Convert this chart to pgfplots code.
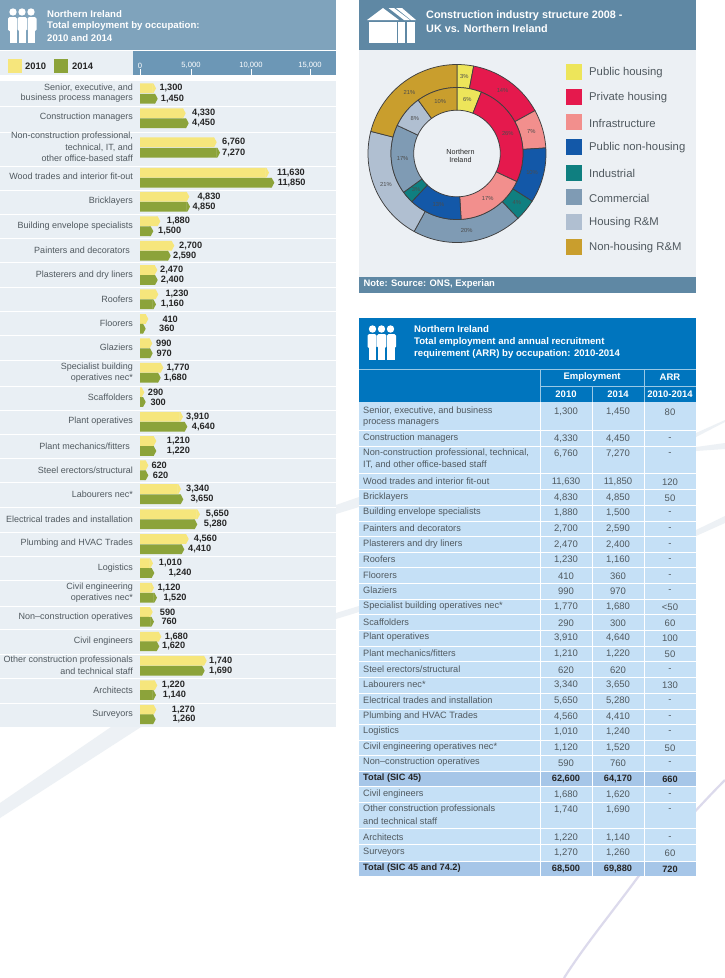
\documentclass[border=0pt]{standalone}
\usepackage{fontspec}
\setmainfont{Liberation Sans}
\usepackage{pgfplots}
\usepackage{pgfplotstable}
\pgfplotsset{compat=1.18}
\usepgfplotslibrary{polar}
\definecolor{hdrL}{HTML}{7FA3BC}
\definecolor{bandL}{HTML}{6C97B6}
\definecolor{rowL}{HTML}{E9EFF4}
\definecolor{hdrR}{HTML}{5F88A4}
\definecolor{bodyR}{HTML}{ECF0F4}
\definecolor{tblue}{HTML}{0075BE}
\definecolor{trow}{HTML}{C5E0F6}
\definecolor{ttot}{HTML}{A6C6E8}
\definecolor{yel}{HTML}{F6E67C}
\definecolor{grn}{HTML}{8CA33A}
\definecolor{txt}{HTML}{50595F}
\definecolor{swoosh}{HTML}{EDF1F5}
\definecolor{lav}{HTML}{DCDAEC}
\definecolor{cA}{HTML}{EDE55A}
\definecolor{cB}{HTML}{E5194D}
\definecolor{cC}{HTML}{F28F8D}
\definecolor{cD}{HTML}{1358A8}
\definecolor{cE}{HTML}{0F7F80}
\definecolor{cF}{HTML}{7F9BB4}
\definecolor{cG}{HTML}{B0BFD1}
\definecolor{cH}{HTML}{C99E2D}
\pgfdeclareplotmark{headr}{%
  \pgfpathmoveto{\pgfqpoint{-0.3pt}{-4.9pt}}%
  \pgfpathlineto{\pgfqpoint{0.8pt}{-4.9pt}}%
  \pgfpathlineto{\pgfqpoint{3.4pt}{0pt}}%
  \pgfpathlineto{\pgfqpoint{0.8pt}{4.9pt}}%
  \pgfpathlineto{\pgfqpoint{-0.3pt}{4.9pt}}%
  \pgfpathclose\pgfusepathqfill}
% y = pixel row of each bar, a / b = length of the 2010 / 2014 bar as drawn
\pgfplotstableread{
ya yb a b
88.3 98.7 1416 1566
113.3 123.2 4044 4310
142.3 152.7 6788 7080
172.7 182.7 11416 11885
196.7 206.7 4363 4425
221.3 231.2 1796 1177
245.7 255.7 3035 2717
270.0 280.0 1531 1566
294.3 304.3 1619 1416
319.0 328.7 735 504
343.3 353.3 1088 1124
367.7 377.7 2062 1832
392.3 402.0 381 504
416.7 426.7 3805 4186
441.0 451.0 1442 1442
465.3 475.3 735 735
489.0 499.3 3628 3832
514.3 524.3 5310 5071
539.0 549.3 4310 3920
563.3 573.0 1150 1265
587.7 597.7 1239 1504
612.0 621.7 1124 1239
636.7 646.3 1885 1708
660.7 670.7 5903 5726
685.3 695.0 1531 1416
709.7 719.3 1442 1389
}\bars
\newcommand\seg[6]{% start, pct, rin, rout, colour, label
  \pgfmathsetmacro\aO{90-3.6*#1}\pgfmathsetmacro\aE{90-3.6*(#1+#2)}%
  \pgfmathsetmacro\nS{int(ceil(#2*1.2)+1)}%
  \gdef\pts{}%
  \foreach \i in {0,...,\nS}{\pgfmathsetmacro\ang{\aO+(\aE-\aO)*\i/\nS}\xdef\pts{\pts (\ang,#4)}}%
  \foreach \i in {\nS,...,0}{\pgfmathsetmacro\ang{\aO+(\aE-\aO)*\i/\nS}\xdef\pts{\pts (\ang,#3)}}%
  \edef\tmp{\noexpand\addplot[fill=#5,draw=black!75,line width=.75pt,data cs=polar] coordinates {\pts} -- cycle;}\tmp
  \pgfmathsetmacro\lx{(#3+#4)/2*cos((\aO+\aE)/2)}\pgfmathsetmacro\ly{(#3+#4)/2*sin((\aO+\aE)/2)}%
  \edef\tmp{\noexpand\node[font=\noexpand\fontsize{5.8}{6}\noexpand\selectfont,text=black!70] at (axis cs:\lx,\ly) {#6\noexpand\%};}\tmp
}
\newcommand\lab[2]{\node[anchor=east,text=txt,inner sep=0pt,font=\fontsize{9}{10}\selectfont] at (133,#1) {#2};}
\newcommand\vl[3]{\node[anchor=west,text=black!85,inner sep=0pt,font=\fontsize{9.2}{10}\bfseries\selectfont] at (#1,#2) {#3};}
\newcommand\tr[5]{%
  \node[anchor=west,text=txt,inner sep=0pt,font=\fontsize{9.2}{10}\selectfont] at (363,#1) {#2};
  \node[text=txt,inner sep=0pt,font=\fontsize{9.5}{10}\selectfont] at (566,#1+1) {#3};
  \node[text=txt,inner sep=0pt,font=\fontsize{9.5}{10}\selectfont] at (618,#1+1) {#4};
  \node[text=txt,inner sep=0pt,font=\fontsize{9.5}{10}\selectfont] at (670,#1+1) {#5};}
\newcommand\trb[5]{%
  \node[anchor=west,text=black!85,inner sep=0pt,font=\fontsize{9.2}{10}\bfseries\selectfont] at (363,#1) {#2};
  \node[text=black!85,inner sep=0pt,font=\fontsize{9.2}{10}\bfseries\selectfont] at (566,#1+1) {#3};
  \node[text=black!85,inner sep=0pt,font=\fontsize{9.2}{10}\bfseries\selectfont] at (618,#1+1) {#4};
  \node[text=black!85,inner sep=0pt,font=\fontsize{9.2}{10}\bfseries\selectfont] at (670,#1+1) {#5};}
\newcommand\people[2]{\begin{scope}[shift={(#1,#2)},white]
  \foreach \c in {13,22,31}{\fill (\c,12) circle (3.7);}
  \fill[rounded corners=1.5] (8,17) rectangle (17,31); \fill (9.5,30) rectangle (16.6,43);
  \fill[rounded corners=1.5] (27.5,17) rectangle (36.5,31); \fill (27.9,30) rectangle (35,43);
  \fill[rounded corners=1.5] (17.7,17) rectangle (26.8,31); \fill (18.6,30) rectangle (25.9,43);
  \end{scope}}
\tikzset{px/.style={x=1pt,y=-1pt}}
\newcommand\hd[3]{\node[anchor=west,text=white,inner sep=0pt,font=\fontsize{9.6}{10}\bfseries\selectfont] at (#1,#2) {#3};}
\begin{document}
\begin{tikzpicture}
\begin{scope}[px]
\useasboundingbox (0,0) rectangle (725,978);
\fill[white] (0,0) rectangle (725,978);
% faint background strokes
\fill[swoosh] (111,727) -- (141,727) -- (0,818) -- (0,803) -- cycle;
\fill[swoosh] (696,433) -- (725,420) -- (725,422) -- (696,437) -- cycle;
\fill[swoosh] (696,447) -- (725,443) -- (725,449) -- (696,451) -- cycle;
\fill[swoosh] (696,530) -- (725,516) -- (725,523) -- (696,536) -- cycle;
\fill[swoosh] (336,505) -- (359,497) -- (359,507) -- (336,514) -- cycle;
\fill[swoosh] (336,613) -- (359,606) -- (359,612) -- (336,619) -- cycle;
\draw[lav,line width=2.2pt] (725,780) .. controls (705,800) and (670,838) .. (638,877) .. controls (610,915) and (585,945) .. (564,978);
% left panel
\fill[hdrL] (0,0) rectangle (336,50);
\fill[rowL] (0,51) rectangle (133,75);
\fill[bandL] (133,51) rectangle (336,75);
\fill[rowL] (0,81) rectangle (336,727);
\foreach \y in {106,132,166,190,214,238,262,287,311,335,360,386,410,434,458,482,507,532,556,580,606,629,654,678,703}{\draw[white,line width=1pt] (0,\y) -- (336,\y);}
\people{0}{0}
\hd{47}{14}{Northern Ireland}
\hd{47}{26}{Total employment by occupation:}
\hd{47}{38.5}{2010 and 2014}
\fill[yel] (8,59) rectangle (21.5,73); \fill[grn] (54,59) rectangle (68,73);
\node[anchor=west,text=black!85,inner sep=0pt,font=\fontsize{9.4}{10}\bfseries\selectfont] at (25,66) {2010};
\node[anchor=west,text=black!85,inner sep=0pt,font=\fontsize{9.4}{10}\bfseries\selectfont] at (72,66) {2014};
\end{scope}
% tick axis
\begin{axis}[at={(140pt,-75pt)},anchor=south west,scale only axis,width=196pt,height=7pt,xmin=0,xmax=17345,ymin=0,ymax=1,
  ytick=\empty,xtick={0,4513,9823,15044},xticklabels={0,{5,000},{10,000},{15,000}},scaled x ticks=false,
  xtick pos=lower,xticklabel pos=upper,tick align=inside,major tick length=6pt,
  tick style={white,line width=.5pt},axis line style={draw=none},
  xticklabel style={text=white,inner sep=0pt,yshift=-0.5pt,font=\fontsize{7.6}{8}\selectfont}]
\end{axis}
% bars
\begin{axis}[at={(140pt,-75pt)},anchor=north west,scale only axis,width=196pt,height=652pt,xmin=0,xmax=17345,ymin=75,ymax=727,
  y dir=reverse,hide axis,clip=false]
\addplot[xbar,bar shift=0pt,bar width=9.8pt,fill=yel,draw=none] table[x expr=\thisrow{a}-300,y=ya]{\bars};
\addplot[xbar,bar shift=0pt,bar width=9.8pt,fill=grn,draw=none] table[x expr=\thisrow{b}-300,y=yb]{\bars};
\addplot[only marks,mark=headr,mark options={fill=yel,draw=none}] table[x expr=\thisrow{a}-300,y=ya]{\bars};
\addplot[only marks,mark=headr,mark options={fill=grn,draw=none}] table[x expr=\thisrow{b}-300,y=yb]{\bars};
\end{axis}
\begin{scope}[px]
\lab{87.5}{Senior, executive, and}\lab{98}{business process managers}
\lab{117.5}{Construction managers}
\lab{136.5}{Non-construction professional,}\lab{147.5}{technical, IT, and }\lab{158.5}{other office-based staff}
\lab{176.7}{Wood trades and interior fit-out}
\lab{201.3}{Bricklayers}\lab{226}{Building envelope specialists}
\node[anchor=east,text=txt,inner sep=0pt,font=\fontsize{9}{10}\selectfont] at (130,250) {Painters and decorators};
\lab{274.7}{Plasterers and dry liners}\lab{299}{Roofers}\lab{323.7}{Floorers}\lab{347.7}{Glaziers}
\lab{367}{Specialist building}\lab{378}{operatives nec*}
\lab{397}{Scaffolders}\lab{421}{Plant operatives}
\node[anchor=east,text=txt,inner sep=0pt,font=\fontsize{9}{10}\selectfont] at (130,446) {Plant mechanics/fitters};
\lab{470}{Steel erectors/structural}\lab{494.7}{Labourers nec*}
\lab{519}{Electrical trades and installation}\lab{543}{Plumbing and HVAC Trades}\lab{567.7}{Logistics}
\lab{587}{Civil engineering}\lab{598}{operatives nec*}
\lab{617}{Non–construction operatives}\lab{641}{Civil engineers}
\lab{660}{Other construction professionals}\lab{671}{and technical staff}
\lab{690}{Architects}\lab{714.5}{Surveyors}
\vl{159.3}{88.3}{1,300}\vl{160.7}{98.7}{1,450}
\vl{192}{113.3}{4,330}\vl{192}{123.2}{4,450}
\vl{222}{142.3}{6,760}\vl{222}{152.7}{7,270}
\vl{277}{172.7}{11,630}\vl{277.7}{182.7}{11,850}
\vl{197.3}{196.7}{4,830}\vl{192.3}{206.7}{4,850}
\vl{166.7}{221.3}{1,880}\vl{158}{231.2}{1,500}
\vl{179}{245.7}{2,700}\vl{173}{255.7}{2,590}
\vl{160}{270}{2,470}\vl{160.7}{280}{2,400}
\vl{165.3}{294.3}{1,230}\vl{160.7}{304.3}{1,160}
\vl{162.3}{319}{410}\vl{159}{328.7}{360}
\vl{156}{343.3}{990}\vl{156.3}{353.3}{970}
\vl{166.3}{367.7}{1,770}\vl{163.7}{377.7}{1,680}
\vl{147.7}{392.3}{290}\vl{150.3}{402}{300}
\vl{186}{416.7}{3,910}\vl{191.7}{426.7}{4,640}
\vl{166.7}{441}{1,210}\vl{166.7}{451}{1,220}
\vl{151.3}{465.3}{620}\vl{152.7}{475.3}{620}
\vl{186}{489}{3,340}\vl{190.3}{499.3}{3,650}
\vl{205.7}{514.3}{5,650}\vl{203.7}{524.3}{5,280}
\vl{193.7}{539}{4,560}\vl{188}{549.3}{4,410}
\vl{158.7}{563.3}{1,010}\vl{168.3}{573}{1,240}
\vl{157.3}{587.7}{1,120}\vl{163.3}{597.7}{1,520}
\vl{159.7}{612}{590}\vl{161.3}{621.7}{760}
\vl{164.7}{636.7}{1,680}\vl{162}{646.3}{1,620}
\vl{209}{660.7}{1,740}\vl{209}{670.7}{1,690}
\vl{161.7}{685.3}{1,220}\vl{162.7}{695}{1,140}
\vl{171.7}{709.7}{1,270}\vl{172.3}{719.3}{1,260}
% donut panel
\fill[hdrR] (359,0) rectangle (696,50);
\fill[bodyR] (359,50) rectangle (696,277);
\fill[hdrR] (359,277) rectangle (696,292.5);
\begin{scope}[white]
\fill (383,8) -- (367,20) -- (399,20) -- cycle;
\fill (388.5,8) -- (394,8) -- (410,20) -- (404,20) -- cycle;
\fill (396,8) -- (402,8) -- (416,20) -- (411,20) -- cycle;
\fill (369,22) rectangle (396.7,43); \fill (397.7,22) rectangle (405,43); \fill (406.7,22) rectangle (415,43);
\end{scope}
\node[anchor=west,text=white,inner sep=0pt,font=\fontsize{10.8}{12}\bfseries\selectfont] at (426,16) {Construction industry structure 2008 -};
\node[anchor=west,text=white,inner sep=0pt,font=\fontsize{10.8}{12}\bfseries\selectfont] at (426,29) {UK vs. Northern Ireland};
\node[anchor=west,text=white,inner sep=0pt,font=\fontsize{9.4}{10}\bfseries\selectfont] at (363.5,284.5) {Note: Source: ONS, Experian};
\end{scope}
\begin{axis}[at={(457pt,-153.5pt)},anchor=center,scale only axis,width=190pt,height=190pt,xmin=-95,xmax=95,ymin=-95,ymax=95,hide axis,clip=false]
\seg{0}{3}{66}{89}{cA}{3}
\seg{3}{14}{66}{89}{cB}{14}
\seg{17}{7}{66}{89}{cC}{7}
\seg{24}{10}{66}{89}{cD}{10}
\seg{34}{4}{66}{89}{cE}{4}
\seg{38}{20}{66}{89}{cF}{20}
\seg{58}{21}{66}{89}{cG}{21}
\seg{79}{21}{66}{89}{cH}{21}
\seg{0}{6}{43.3}{66}{cA}{6}
\seg{6}{26}{43.3}{66}{cB}{26}
\seg{32}{17}{43.3}{66}{cC}{17}
\seg{49}{13}{43.3}{66}{cD}{13}
\seg{62}{3}{43.3}{66}{cE}{3}
\seg{65}{17}{43.3}{66}{cF}{17}
\seg{82}{8}{43.3}{66}{cG}{8}
\seg{90}{10}{43.3}{66}{cH}{10}
\end{axis}
\begin{scope}[px]
\node[text=black!85,inner sep=0pt,font=\fontsize{7.2}{8}\selectfont] at (460.5,152) {Northern};
\node[text=black!85,inner sep=0pt,font=\fontsize{7.2}{8}\selectfont] at (460.5,160) {Ireland};
\foreach \y/\c/\t in {72/cA/Public housing,97/cB/Private housing,122/cC/Infrastructure,147/cD/Public non-housing,172.5/cE/Industrial,197/cF/Commercial,222/cG/Housing R\&M,246.5/cH/Non-housing R\&M}{
  \fill[\c] (565.7,\y-8) rectangle (581.7,\y+8);
  \node[anchor=west,text=txt,inner sep=0pt,font=\fontsize{11.3}{13}\selectfont] at (589,\y+1) {\t};}
% table
\fill[tblue] (359,318) rectangle (696,402);
\people{359.5}{317}
\hd{414}{329.5}{Northern Ireland}
\hd{414}{342}{Total employment and annual recruitment}
\hd{414}{354.5}{requirement (ARR) by occupation: 2010-2014}
\draw[white!60!tblue,line width=.8pt] (359,369) -- (696,369);
\draw[white!60!tblue,line width=.8pt] (540.5,369) -- (540.5,402) (592,386) -- (592,402) (644,369) -- (644,402) (540.5,386) -- (696,386);
\foreach \x/\y/\t in {592/377.5/Employment,670/377.5/ARR,566/394/2010,618/394/2014,670/394/2010-2014}{\node[text=white,inner sep=0pt,font=\fontsize{9.5}{10}\bfseries\selectfont] at (\x,\y) {\t};}
\fill[trow] (359,402) rectangle (696,771);
\fill[ttot] (359,771) rectangle (696,786);
\fill[trow] (359,786) rectangle (696,861);
\fill[ttot] (359,861) rectangle (696,876);
\foreach \y in {430,446,473,489,505,521,536,552,567,583,599,614,630,646,661,677,693,709,724,740,755,771,786,802,828,844,861}{\draw[white,line width=.9pt] (359,\y) -- (696,\y);}
\foreach \x in {540.5,592,644}{\draw[white,line width=.8pt] (\x,402) -- (\x,876);}
\tr{411}{Senior, executive, and business}{1,300}{1,450}{80}
\node[anchor=west,text=txt,inner sep=0pt,font=\fontsize{9.2}{10}\selectfont] at (363,423) {process managers};
\tr{438}{Construction managers}{4,330}{4,450}{-}
\tr{453}{Non-construction professional, technical,}{6,760}{7,270}{-}
\node[anchor=west,text=txt,inner sep=0pt,font=\fontsize{9.2}{10}\selectfont] at (363,465) {IT, and other office-based staff};
\tr{481}{Wood trades and interior fit-out}{11,630}{11,850}{120}
\tr{497}{Bricklayers}{4,830}{4,850}{50}
\tr{512}{Building envelope specialists}{1,880}{1,500}{-}
\tr{528}{Painters and decorators}{2,700}{2,590}{-}
\tr{543.7}{Plasterers and dry liners}{2,470}{2,400}{-}
\tr{559}{Roofers}{1,230}{1,160}{-}
\tr{575}{Floorers}{410}{360}{-}
\tr{590}{Glaziers}{990}{970}{-}
\tr{606}{Specialist building operatives nec*}{1,770}{1,680}{<50}
\tr{622}{Scaffolders}{290}{300}{60}
\tr{637}{Plant operatives}{3,910}{4,640}{100}
\tr{653}{Plant mechanics/fitters}{1,210}{1,220}{50}
\tr{669}{Steel erectors/structural}{620}{620}{-}
\tr{684}{Labourers nec*}{3,340}{3,650}{130}
\tr{700}{Electrical trades and installation}{5,650}{5,280}{-}
\tr{716}{Plumbing and HVAC Trades}{4,560}{4,410}{-}
\tr{731}{Logistics}{1,010}{1,240}{-}
\tr{747}{Civil engineering operatives nec*}{1,120}{1,520}{50}
\tr{762}{Non–construction operatives}{590}{760}{-}
\trb{778}{Total (SIC 45)}{62,600}{64,170}{660}
\tr{794}{Civil engineers}{1,680}{1,620}{-}
\tr{809}{Other construction professionals}{1,740}{1,690}{-}
\node[anchor=west,text=txt,inner sep=0pt,font=\fontsize{9.2}{10}\selectfont] at (363,821) {and technical staff};
\tr{837}{Architects}{1,220}{1,140}{-}
\tr{852}{Surveyors}{1,270}{1,260}{60}
\trb{868}{Total (SIC 45 and 74.2)}{68,500}{69,880}{720}
\end{scope}
\end{tikzpicture}
\end{document}
